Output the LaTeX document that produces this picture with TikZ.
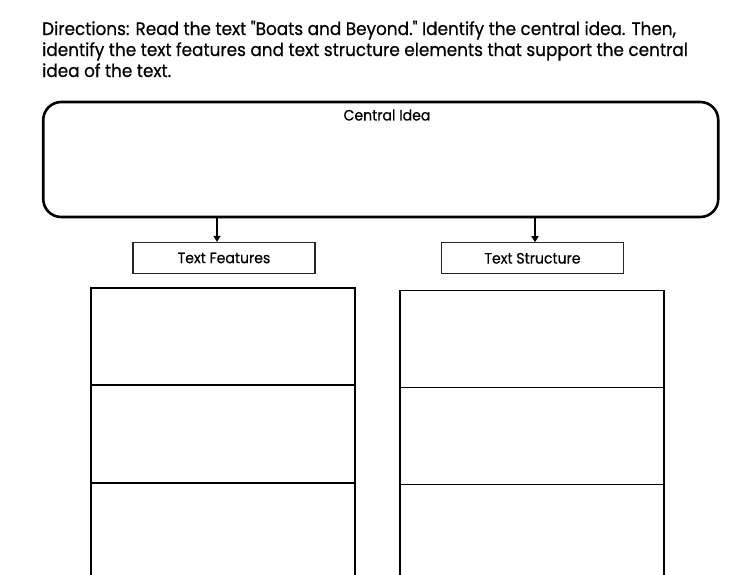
\documentclass[tikz,border=0pt]{standalone}
\usepackage{fontspec}
\setmainfont{Poppins}[Ligatures=TeXOff,FakeStretch=0.937,FakeBold=0.5]
\usetikzlibrary{arrows.meta}
\begin{document}
\begin{tikzpicture}[x=1pt,y=-1pt,
  dirtext/.style={anchor=base west,inner sep=0pt,font=\fontsize{18}{20}\selectfont},
  labeltext/.style={inner sep=0pt,font=\fontsize{15}{16}\selectfont},
  bigbox/.style={draw,line width=2.6pt,rounded corners=18pt,minimum width=675pt,minimum height=115pt,inner sep=0pt},
  headbox/.style={draw=black!85,line width=1.2pt,minimum width=182pt,minimum height=31pt,inner sep=0pt,font=\fontsize{15}{16}\selectfont},
  cell/.style={draw,line width=1.8pt,minimum width=264pt,inner sep=0pt},
  conn/.style={line width=1.5pt,-{Triangle[length=6pt,width=7pt]}}]
\useasboundingbox (0,0) rectangle (734,574);
\fill[white] (0,0) rectangle (734,574);
\node[dirtext] (dir1) at (42,35) {Directions: Read the text "Boats and Beyond." Identify the central idea. Then,};
\node[dirtext] (dir2) at (42,56) {identify the text features and text structure elements that support the central};
\node[dirtext] (dir3) at (42,77) {idea of the text.};
\node[bigbox] (central) at (380.75,159.5) {};
\node[labeltext] (centrallabel) at (387,115) {Central Idea};
\node[headbox] (feat) at (224,258) {Text Features};
\node[headbox] (struct) at (532.5,258.3) {Text Structure};
\coordinate (a1) at (217,218);
\coordinate (a2) at (535,218);
\draw[conn] (a1) -- (a1 |- feat.north);
\draw[conn] (a2) -- (a2 |- struct.north);
\node[cell,minimum height=97pt] (f1) at (223,336.5) {};
\node[cell,minimum height=98pt] (f2) at (223,434) {};
\node[cell,minimum height=120pt] (f3) at (223,543) {};
\node[cell,minimum height=97pt] (s1) at (532.25,339) {};
\node[cell,minimum height=97pt] (s2) at (532.25,436) {};
\node[cell,minimum height=120pt] (s3) at (532.25,544.5) {};
\end{tikzpicture}
\end{document}
